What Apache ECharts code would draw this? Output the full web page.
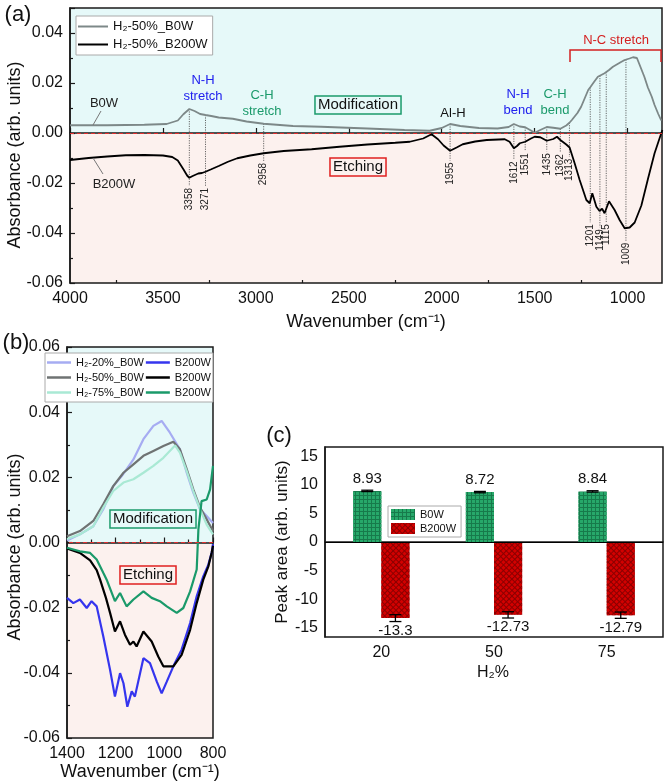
<!DOCTYPE html>
<html><head><meta charset="utf-8">
<script src="https://cdn.jsdelivr.net/npm/echarts@6/dist/echarts.min.js"></script>
<style>html,body{margin:0;padding:0;background:#fff}#c{width:664px;height:784px}</style>
</head><body><div id="c"></div><script>
const FONT = '"Liberation Sans", Arial, Helvetica, sans-serif';

// ---------------- Panel (a) data ----------------
const waveA_B0W = [4000,3800,3600,3480,3420,3390,3358,3330,3300,3271,3240,3200,3124,3050,2958,2800,2650,2400,2200,2065,2000,1955,1900,1800,1700,1640,1612,1580,1551,1520,1500,1470,1435,1400,1362,1330,1313,1300,1270,1250,1212,1201,1180,1160,1124,1100,1079,1040,1016,990,971,950,935,910,891,870,855,835,819];
const absA_B0W  = [0.0031,0.0031,0.0033,0.0036,0.0050,0.0075,0.0096,0.0088,0.0076,0.0072,0.0068,0.0062,0.0057,0.0046,0.0037,0.0028,0.0025,0.0018,0.0012,0.0009,0.0020,0.0036,0.0028,0.0020,0.0018,0.0024,0.0036,0.0026,0.0023,0.0010,0.0001,0.0012,0.0024,0.0021,0.0017,0.0030,0.0041,0.0052,0.0080,0.0105,0.0172,0.0183,0.0205,0.0225,0.0239,0.0252,0.0265,0.0282,0.0292,0.0298,0.0303,0.0300,0.0272,0.0225,0.0182,0.0145,0.0112,0.0076,0.0050];
const waveA_B200W = [4000,3900,3800,3700,3600,3500,3450,3420,3390,3370,3358,3340,3310,3290,3271,3240,3200,3150,3100,3030,2958,2850,2700,2550,2400,2250,2172,2100,2055,2020,1990,1955,1920,1887,1820,1758,1661,1635,1612,1595,1580,1551,1520,1500,1470,1435,1400,1380,1362,1330,1312,1285,1258,1222,1204,1190,1180,1168,1151,1137,1124,1100,1070,1043,1016,989,962,926,891,855,828,813];
const absA_B200W  = [-0.0108,-0.0100,-0.0094,-0.0089,-0.0088,-0.0090,-0.0096,-0.0110,-0.0145,-0.0170,-0.0179,-0.0172,-0.0162,-0.0160,-0.0155,-0.0145,-0.0132,-0.0115,-0.0101,-0.0090,-0.0081,-0.0072,-0.0065,-0.0055,-0.0046,-0.0039,-0.0035,-0.0022,-0.0005,-0.0025,-0.0050,-0.0071,-0.0058,-0.0045,-0.0034,-0.0028,-0.0025,-0.0035,-0.0061,-0.0052,-0.0041,-0.0035,-0.0022,-0.0015,-0.0017,-0.0031,-0.0024,-0.0015,-0.0028,-0.0046,-0.0058,-0.0121,-0.0188,-0.0268,-0.0281,-0.0241,-0.0245,-0.0295,-0.0312,-0.0303,-0.0321,-0.0273,-0.0308,-0.0348,-0.0381,-0.0378,-0.0358,-0.0290,-0.0185,-0.0081,-0.0021,0.0012];
const peakWaves     = [3358,3271,2958,1955,1612,1551,1435,1362,1313,1201,1149,1115,1009];
const peakLabelEnds = [-0.0212,-0.0212,-0.0112,-0.0110,-0.0106,-0.0073,-0.0073,-0.0077,-0.0095,-0.0357,-0.0377,-0.0357,-0.0431];
const xTicksA = [4000,3500,3000,2500,2000,1500,1000];
const xMinorA = [3750,3250,2750,2250,1750,1250];

// ---------------- Panel (b) data ----------------
const waveB_20_B0W = [1400,1347,1292,1251,1210,1175,1127,1086,1045,1011,977,936,908,881,853,826,800];
const absB_20_B0W  = [0.0006,0.0025,0.0050,0.0102,0.0173,0.0204,0.0255,0.0317,0.0358,0.0373,0.0337,0.0286,0.0214,0.0153,0.0102,0.0081,0.0060];
const waveB_50_B0W = [1400,1347,1292,1251,1210,1168,1127,1086,1045,1004,963,936,908,881,853,826,800];
const absB_50_B0W  = [0.0019,0.0035,0.0066,0.0117,0.0173,0.0214,0.0240,0.0266,0.0281,0.0296,0.0309,0.0286,0.0225,0.0163,0.0107,0.0071,0.0035];
const waveB_75_B0W = [1400,1347,1292,1251,1210,1168,1127,1086,1045,1004,956,936,908,881,853,826,800];
const absB_75_B0W  = [0.0011,0.0025,0.0050,0.0107,0.0158,0.0184,0.0194,0.0214,0.0235,0.0260,0.0298,0.0276,0.0219,0.0158,0.0102,0.0055,0.0025];
const waveB_20_B200W = [1400,1374,1347,1319,1299,1278,1251,1223,1203,1182,1168,1152,1134,1121,1086,1059,1031,1011,990,963,929,894,867,840,819,805,800];
const absB_20_B200W  = [-0.0170,-0.0186,-0.0175,-0.0201,-0.0180,-0.0196,-0.0288,-0.0391,-0.0473,-0.0401,-0.0432,-0.0504,-0.0457,-0.0473,-0.0355,-0.0370,-0.0427,-0.0463,-0.0427,-0.0380,-0.0329,-0.0247,-0.0165,-0.0104,-0.0068,-0.0030,-0.0005];
const waveB_50_B200W = [1400,1347,1305,1278,1264,1240,1223,1203,1182,1162,1141,1127,1114,1086,1052,1025,1004,963,929,894,867,840,819,805,800];
const absB_50_B200W  = [-0.0018,-0.0032,-0.0055,-0.0085,-0.0114,-0.0170,-0.0216,-0.0273,-0.0242,-0.0283,-0.0314,-0.0304,-0.0319,-0.0273,-0.0304,-0.0350,-0.0380,-0.0380,-0.0345,-0.0268,-0.0186,-0.0114,-0.0073,-0.0030,-0.0010];
const waveB_75_B200W = [1400,1347,1305,1278,1251,1237,1203,1182,1155,1127,1086,1052,1018,990,949,922,894,867,860,847,826,812,800];
const absB_75_B200W  = [-0.0016,-0.0027,-0.0032,-0.0052,-0.0093,-0.0114,-0.0180,-0.0155,-0.0196,-0.0175,-0.0150,-0.0170,-0.0180,-0.0196,-0.0216,-0.0201,-0.0150,-0.0083,0.0040,0.0127,0.0132,0.0163,0.0235];

// ---------------- Panel (c) data ----------------
const categoriesC = ['20','50','75'];
const peakAreaB0W = [8.93, 8.72, 8.84];
const peakAreaB200W = [-13.3, -12.73, -12.79];
const errB0W = [0.12, 0.12, 0.12];
const errB200W = [0.6, 0.55, 0.55];
const yTicksC = [-15,-10,-5,0,5,10,15];
const yMinorC = [-12.5,-7.5,-2.5,2.5,7.5,12.5];

// ---------------- helpers ----------------
const zip = (w, v) => w.map((x, i) => [x, v[i]]);
function interp(ws, vs, w) {
  for (let i = 0; i < ws.length - 1; i++) {
    const a = ws[i], b = ws[i + 1];
    if ((w <= a && w >= b) || (w >= a && w <= b)) {
      const t = (w - a) / (b - a);
      return vs[i] + t * (vs[i + 1] - vs[i]);
    }
  }
  return vs[vs.length - 1];
}
const CYAN = '#e6f9f9', PINK = '#fcf1ee';
function bandGradient(min, max) {
  const f = max / (max - min);
  return new echarts.graphic.LinearGradient(0, 0, 0, 1, [
    {offset: 0, color: CYAN}, {offset: f, color: CYAN},
    {offset: f, color: PINK}, {offset: 1, color: PINK}]);
}
const AX = '#1a1a1a';
const GRAY = '#7d8888';
const BLUE_T = '#2020ee', GREEN_T = '#1b9a6b', RED_T = '#d42020';

const A_MIN = -0.06, A_MAX = 0.05, B_MIN = -0.06, B_MAX = 0.06;
const C_MIN = -16.6, C_MAX = 16.6;

const zeroLine = {symbol: 'none', silent: true, label: {show: false},
  lineStyle: {color: '#e03030', type: [4, 3], width: 1.2}, data: [{yAxis: 0}]};

function renderPeak(params, api) {
  const w = api.value(0);
  const p1 = api.coord([w, api.value(1)]);
  const p2 = api.coord([w, api.value(2)]);
  return {type: 'group', children: [
    {type: 'line', shape: {x1: p1[0], y1: p1[1], x2: p2[0], y2: p2[1]},
     style: {stroke: '#444', lineWidth: 0.8, lineDash: [1.2, 1.2]}},
    {type: 'text', x: p2[0], y: p2[1] + 2, rotation: Math.PI / 2,
     style: {text: String(w), align: 'right', verticalAlign: 'middle', fontSize: 10, fontFamily: FONT, fill: '#222'}}
  ]};
}
function renderErr(params, api) {
  const idx = api.value(0), v = api.value(1), e = api.value(2), side = api.value(3);
  const band = api.size([1, 0])[0];
  const dx = side * band * 0.125;
  const t = api.coord([idx, v + e]), b = api.coord([idx, v - e]);
  const x = t[0] + dx, cap = 6;
  const st = {stroke: '#000', lineWidth: 1.3};
  return {type: 'group', children: [
    {type: 'line', shape: {x1: x, y1: t[1], x2: x, y2: b[1]}, style: st},
    {type: 'line', shape: {x1: x - cap, y1: t[1], x2: x + cap, y2: t[1]}, style: st},
    {type: 'line', shape: {x1: x - cap, y1: b[1], x2: x + cap, y2: b[1]}, style: st}
  ]};
}

function txt(text, x, y, opts) {
  opts = opts || {};
  return {type: 'text', x: x, y: y, rotation: opts.rotation || 0, z: 100,
    style: Object.assign({text: text, fontFamily: FONT, fontSize: 13, fill: '#111',
      align: 'center', verticalAlign: 'middle'}, opts.style || {})};
}
function line(pts, color, w) {
  return {type: 'polyline', z: 100, shape: {points: pts}, style: {stroke: color, lineWidth: w || 1, fill: null}};
}

const axisLabelStyle = {fontSize: 16, color: '#111', fontFamily: FONT};
const tickStyle = {color: AX, width: 1.2};
const plain = v => String(v);

const bNames = ['b:H₂-20%_B0W','b:H₂-20%_B200W','b:H₂-50%_B0W','b:H₂-50%_B200W','b:H₂-75%_B0W','b:H₂-75%_B200W'];

const option = {
  animation: false,
  textStyle: {fontFamily: FONT},
  grid: [
    {left: 70, top: 8, width: 592, height: 275, show: true, borderColor: AX, borderWidth: 1.5, backgroundColor: bandGradient(A_MIN, A_MAX)},
    {left: 67, top: 347, width: 146, height: 391, show: true, borderColor: AX, borderWidth: 1.5, backgroundColor: bandGradient(B_MIN, B_MAX)},
    {left: 325, top: 447, width: 338, height: 190, show: true, borderColor: AX, borderWidth: 1.5, backgroundColor: '#fff'}
  ],
  xAxis: [
    {gridIndex: 0, type: 'value', min: 815, max: 4000, inverse: true,
     axisLine: {show: true, lineStyle: {color: AX, width: 1.5}},
     axisTick: {inside: true, length: 5, customValues: xTicksA, lineStyle: tickStyle},
     axisLabel: Object.assign({customValues: xTicksA, margin: 8, formatter: plain}, axisLabelStyle),
     splitLine: {show: false}},
    {gridIndex: 0, type: 'value', min: 815, max: 4000, inverse: true, position: 'bottom',
     axisLine: {show: false}, axisTick: {inside: true, length: 3, customValues: xMinorA, lineStyle: tickStyle},
     axisLabel: {show: false}, splitLine: {show: false}},
    {gridIndex: 1, type: 'value', min: 800, max: 1400, interval: 200, inverse: true,
     axisLine: {show: true, lineStyle: {color: AX, width: 1.5}},
     axisTick: {inside: true, length: 5, lineStyle: tickStyle},
     minorTick: {show: true, splitNumber: 2, length: 3, lineStyle: tickStyle},
     axisLabel: Object.assign({margin: 8, formatter: plain}, axisLabelStyle), splitLine: {show: false}},
    {gridIndex: 2, type: 'category', data: categoriesC,
     axisLine: {show: true, lineStyle: {color: AX, width: 1.5}},
     axisTick: {alignWithLabel: true, inside: false, length: 5, lineStyle: tickStyle},
     axisLabel: Object.assign({margin: 8}, axisLabelStyle)}
  ],
  yAxis: [
    {gridIndex: 0, type: 'value', min: A_MIN, max: A_MAX, interval: 0.02,
     axisLine: {show: true, lineStyle: {color: AX, width: 1.5}},
     axisTick: {inside: true, length: 5, lineStyle: tickStyle},
     minorTick: {show: true, splitNumber: 2, length: 3, lineStyle: tickStyle},
     axisLabel: Object.assign({showMaxLabel: false, margin: 7, formatter: v => v.toFixed(2)}, axisLabelStyle),
     splitLine: {show: false}},
    {gridIndex: 1, type: 'value', min: B_MIN, max: B_MAX, interval: 0.02,
     axisLine: {show: true, lineStyle: {color: AX, width: 1.5}},
     axisTick: {inside: true, length: 5, lineStyle: tickStyle},
     minorTick: {show: true, splitNumber: 2, length: 3, lineStyle: tickStyle},
     axisLabel: Object.assign({margin: 7, formatter: v => v.toFixed(2)}, axisLabelStyle),
     splitLine: {show: false}},
    {gridIndex: 2, type: 'value', min: C_MIN, max: C_MAX,
     axisLine: {show: true, lineStyle: {color: AX, width: 1.5}},
     axisTick: {inside: true, length: 5, customValues: yTicksC, lineStyle: tickStyle},
     axisLabel: Object.assign({customValues: yTicksC, margin: 7, formatter: plain}, axisLabelStyle),
     splitLine: {show: false}},
    {gridIndex: 2, type: 'value', min: C_MIN, max: C_MAX, position: 'left',
     axisLine: {show: false}, axisTick: {inside: true, length: 3, customValues: yMinorC, lineStyle: tickStyle},
     axisLabel: {show: false}, splitLine: {show: false}}
  ],
  legend: [
    {data: ['H₂-50%_B0W', 'H₂-50%_B200W'], left: 76, top: 16, orient: 'vertical', icon: 'rect',
     itemWidth: 30, itemHeight: 2, itemGap: 5, padding: [4, 5, 4, 2],
     backgroundColor: '#fff', borderColor: '#aaa', borderWidth: 1,
     textStyle: {fontSize: 13, color: '#111', fontFamily: FONT}},
    {data: bNames, left: 45, top: 353, width: 166, orient: 'horizontal', icon: 'rect',
     itemWidth: 24, itemHeight: 2.5, itemGap: 2, padding: [3, 2, 3, 2],
     backgroundColor: '#fff', borderColor: '#aaa', borderWidth: 1,
     formatter: n => n.indexOf('B200W') >= 0 ? 'B200W' : n.replace('b:', ''),
     textStyle: {fontSize: 11, color: '#111', fontFamily: FONT, lineHeight: 13}},
    {data: ['B0W', 'B200W'], left: 388, top: 506, orient: 'vertical', icon: 'rect',
     itemWidth: 24, itemHeight: 11, itemGap: 3, padding: [3, 5, 3, 3],
     backgroundColor: '#fff', borderColor: '#aaa', borderWidth: 1,
     textStyle: {fontSize: 11, color: '#111', fontFamily: FONT}}
  ],
  series: [
    // (a)
    {name: 'H₂-50%_B0W', type: 'line', xAxisIndex: 0, yAxisIndex: 0, data: zip(waveA_B0W, absA_B0W),
     symbol: 'none', color: GRAY, lineStyle: {color: GRAY, width: 1.8}, z: 3, markLine: zeroLine},
    {name: 'H₂-50%_B200W', type: 'line', xAxisIndex: 0, yAxisIndex: 0, data: zip(waveA_B200W, absA_B200W),
     symbol: 'none', color: '#000', lineStyle: {color: '#000', width: 1.8}, z: 3},
    {name: 'peaks', type: 'custom', xAxisIndex: 0, yAxisIndex: 0, silent: true, z: 2,
     encode: {x: 0, y: [1, 2]}, renderItem: renderPeak,
     data: peakWaves.map((w, i) => [w, interp(waveA_B0W, absA_B0W, w), peakLabelEnds[i]])},
    // (b)
    {name: bNames[0], type: 'line', xAxisIndex: 2, yAxisIndex: 1, data: zip(waveB_20_B0W, absB_20_B0W),
     symbol: 'none', color: '#a6acf2', lineStyle: {color: '#a6acf2', width: 2.2}, markLine: zeroLine},
    {name: bNames[2], type: 'line', xAxisIndex: 2, yAxisIndex: 1, data: zip(waveB_50_B0W, absB_50_B0W),
     symbol: 'none', color: '#6f7373', lineStyle: {color: '#6f7373', width: 2.2}},
    {name: bNames[4], type: 'line', xAxisIndex: 2, yAxisIndex: 1, data: zip(waveB_75_B0W, absB_75_B0W),
     symbol: 'none', color: '#a9e9d4', lineStyle: {color: '#a9e9d4', width: 2.2}},
    {name: bNames[1], type: 'line', xAxisIndex: 2, yAxisIndex: 1, data: zip(waveB_20_B200W, absB_20_B200W),
     symbol: 'none', color: '#3535ee', lineStyle: {color: '#3535ee', width: 2.2}},
    {name: bNames[3], type: 'line', xAxisIndex: 2, yAxisIndex: 1, data: zip(waveB_50_B200W, absB_50_B200W),
     symbol: 'none', color: '#000', lineStyle: {color: '#000', width: 2.2}},
    {name: bNames[5], type: 'line', xAxisIndex: 2, yAxisIndex: 1, data: zip(waveB_75_B200W, absB_75_B200W),
     symbol: 'none', color: '#1a9a6a', lineStyle: {color: '#1a9a6a', width: 2.2}},
    // (c)
    {name: 'B0W', type: 'bar', xAxisIndex: 3, yAxisIndex: 2, data: peakAreaB0W, barWidth: '25%', barGap: '0%',
     itemStyle: {color: '#177a4b', decal: {symbol: 'rect', symbolSize: 1, dashArrayX: [3, 1], dashArrayY: [3, 1], color: '#27a86a'}},
     label: {show: true, position: 'top', distance: 5, fontSize: 15, color: '#111', fontFamily: FONT},
     markLine: {symbol: 'none', silent: true, label: {show: false}, lineStyle: {color: '#000', type: 'solid', width: 1.2}, data: [{yAxis: 0}]}},
    {name: 'B200W', type: 'bar', xAxisIndex: 3, yAxisIndex: 2, data: peakAreaB200W, barWidth: '25%', barGap: '0%',
     itemStyle: {color: '#8a0000', decal: {symbol: 'rect', symbolSize: 1, dashArrayX: [3, 1], dashArrayY: [3, 1], rotation: Math.PI / 4, color: '#d30000'}},
     label: {show: true, position: 'bottom', distance: 5, fontSize: 15, color: '#111', fontFamily: FONT}},
    {name: 'err', type: 'custom', xAxisIndex: 3, yAxisIndex: 2, silent: true, z: 5,
     encode: {x: 0, y: 1}, renderItem: renderErr,
     data: peakAreaB0W.map((v, i) => [i, v, errB0W[i], -1]).concat(peakAreaB200W.map((v, i) => [i, v, errB200W[i], 1]))}
  ],
  graphic: [
    txt('(a)', 18, 15, {style: {fontSize: 22}}),
    txt('(b)', 16, 343, {style: {fontSize: 22}}),
    txt('(c)', 279, 436, {style: {fontSize: 22}}),
    txt('Absorbance (arb. units)', 15, 155, {rotation: Math.PI / 2, style: {fontSize: 18}}),
    txt('Wavenumber (cm⁻¹)', 366, 322, {style: {fontSize: 18}}),
    txt('Absorbance (arb. units)', 15, 547, {rotation: Math.PI / 2, style: {fontSize: 18}}),
    txt('Wavenumber (cm⁻¹)', 140, 772, {style: {fontSize: 18}}),
    txt('Peak area (arb. units)', 282, 542, {rotation: Math.PI / 2, style: {fontSize: 17}}),
    txt('H₂%', 493, 673, {style: {fontSize: 16}}),
    // (a) annotations
    txt('B0W', 104, 103, {style: {fontSize: 13, fill: '#222'}}),
    line([[93, 125], [101, 111]], '#777', 1),
    txt('B200W', 114, 184, {style: {fontSize: 13, fill: '#222'}}),
    line([[93, 158], [103, 174]], '#777', 1),
    txt('N-H\nstretch', 203, 88, {style: {fontSize: 13, fill: BLUE_T, lineHeight: 16}}),
    txt('C-H\nstretch', 262, 103, {style: {fontSize: 13, fill: GREEN_T, lineHeight: 16}}),
    txt('Modification', 358, 105, {style: {fontSize: 15, borderColor: GREEN_T, borderWidth: 1.5, padding: [2, 3, 1, 3]}}),
    txt('Etching', 358, 167, {style: {fontSize: 15, borderColor: '#e02020', borderWidth: 1.5, padding: [2, 3, 1, 3]}}),
    txt('Al-H', 453, 113, {style: {fontSize: 13}}),
    txt('N-H\nbend', 518, 102, {style: {fontSize: 13, fill: BLUE_T, lineHeight: 16}}),
    txt('C-H\nbend', 555, 102, {style: {fontSize: 13, fill: GREEN_T, lineHeight: 16}}),
    txt('N-C stretch', 616, 40, {style: {fontSize: 13, fill: RED_T}}),
    line([[570, 62], [570, 50], [661, 50], [661, 62]], RED_T, 1.5),
    // (b) annotations
    txt('Modification', 153, 519, {style: {fontSize: 15, borderColor: GREEN_T, borderWidth: 1.5, padding: [2, 3, 1, 3]}}),
    txt('Etching', 148, 575, {style: {fontSize: 15, borderColor: '#e02020', borderWidth: 1.5, padding: [2, 3, 1, 3]}})
  ]
};

const chart = echarts.init(document.getElementById('c'), null, {renderer: 'canvas', width: 664, height: 784});
chart.setOption(option);
</script></body></html>
